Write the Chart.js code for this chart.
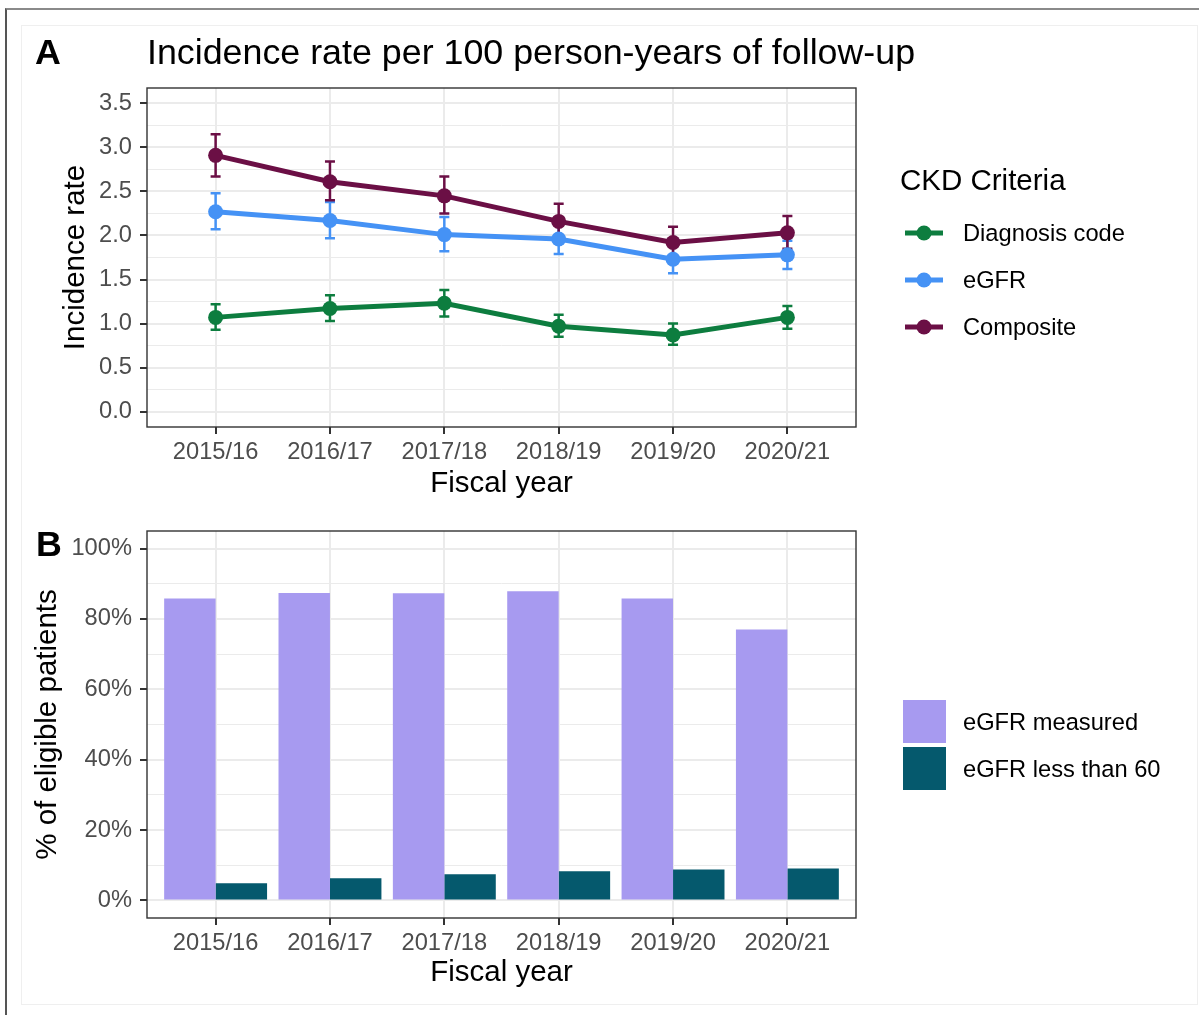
<!DOCTYPE html>
<html>
<head>
<meta charset="utf-8">
<title>CKD incidence and eGFR testing by fiscal year</title>
<script src="https://cdn.jsdelivr.net/npm/chart.js@4/dist/chart.umd.min.js"></script>
<style>
  html, body { margin: 0; padding: 0; background: #fff; width: 1199px; height: 1015px; overflow: hidden; }
  #frame { position: absolute; left: 5px; top: 8px; width: 1300px; height: 1100px;
           border-left: 2px solid #555; border-top: 2px solid #8a8a8a; }
  #inner { position: absolute; left: 21px; top: 25px; width: 1175px; height: 978px; border: 1px solid #efefef; }
  canvas { position: absolute; left: 0; }
  #chartA { top: 0; }
  #chartB { top: 500px; }
</style>
</head>
<body>
<div id="frame"></div>
<div id="inner"></div>
<canvas id="chartA" width="1199" height="520"></canvas>
<canvas id="chartB" width="1199" height="515"></canvas>
<script>
// ---- Data ----
const fiscalYears = ['2015/16', '2016/17', '2017/18', '2018/19', '2019/20', '2020/21'];

// Incidence rate per 100 person-years, with 95% confidence limits
const diagRate  = [1.07, 1.17, 1.23, 0.97, 0.87, 1.07];
const diagLower = [0.93, 1.03, 1.08, 0.85, 0.76, 0.94];
const diagUpper = [1.22, 1.32, 1.38, 1.10, 1.00, 1.20];

const egfrRate  = [2.27, 2.17, 2.01, 1.96, 1.73, 1.78];
const egfrLower = [2.07, 1.97, 1.82, 1.79, 1.57, 1.62];
const egfrUpper = [2.48, 2.38, 2.21, 2.14, 1.89, 1.94];

const compRate  = [2.91, 2.61, 2.45, 2.16, 1.92, 2.03];
const compLower = [2.67, 2.40, 2.25, 1.97, 1.73, 1.85];
const compUpper = [3.15, 2.84, 2.67, 2.36, 2.10, 2.22];

// Share of eligible patients (%)
const measuredPct = [85.8, 87.4, 87.3, 87.9, 85.8, 77.0];
const below60Pct  = [4.9, 6.3, 7.4, 8.3, 8.8, 9.1];

// Tick values
const rateTicks = [0, 0.5, 1, 1.5, 2, 2.5, 3, 3.5];
const pctTicks  = [0, 20, 40, 60, 80, 100];

// ---- Styling ----
const FONT = "'Liberation Sans', Arial, Helvetica, sans-serif";
Chart.defaults.font.family = FONT;
Chart.defaults.color = '#4d4d4d';
Chart.defaults.animation = false;

const GREEN = '#0d7d3f', BLUE = '#4592f5', MAROON = '#6b0f45';
const LAVENDER = '#a79af0', TEAL = '#05596d';
const GRID = '#ebebeb', INK = '#333333';
const TICK_SIZE = 23.7, TITLE_SIZE = 29.5, MAIN_SIZE = 35.8;
const PLOT_LEFT = 147, PLOT_RIGHT = 856, CANVAS_W = 1199;

// major ticks plus midpoints as minor gridlines
function withMinor(majors) {
  const out = [];
  majors.forEach((v, i) => {
    out.push(v);
    if (i < majors.length - 1) out.push((v + majors[i + 1]) / 2);
  });
  return out;
}

function xScale(height, bottomPad) {
  return {
    type: 'linear',
    min: -0.6,
    max: fiscalYears.length - 1 + 0.6,
    offset: false,
    afterBuildTicks: s => { s.ticks = fiscalYears.map((_, i) => ({ value: i })); },
    afterFit: s => { s.height = height; },
    ticks: { callback: v => fiscalYears[v], color: '#4d4d4d', font: { size: TICK_SIZE },
             padding: 4, maxRotation: 0, autoSkip: false },
    grid: { offset: false, color: GRID, lineWidth: 2, tickLength: 7, tickColor: INK, tickWidth: 2 },
    border: { display: false },
    title: { display: true, text: 'Fiscal year', color: '#000', font: { size: TITLE_SIZE },
             padding: { top: 0, bottom: bottomPad } }
  };
}

function yScale(min, max, majors, fmt, titleText, titlePad) {
  const majorSet = new Set(majors);
  const isMajor = c => c.tick && majorSet.has(c.tick.value);
  return {
    type: 'linear',
    min, max,
    afterBuildTicks: s => { s.ticks = withMinor(majors).map(v => ({ value: v })); },
    afterFit: s => { s.width = PLOT_LEFT; },
    ticks: { callback: v => majorSet.has(v) ? fmt(v) : '', color: '#4d4d4d',
             font: { size: TICK_SIZE }, padding: 8, autoSkip: false },
    grid: { color: GRID, lineWidth: c => isMajor(c) ? 2 : 1, tickLength: 7,
            tickColor: c => isMajor(c) ? INK : 'rgba(0,0,0,0)', tickWidth: 2 },
    border: { display: false },
    title: { display: true, text: titleText, color: '#000', font: { size: TITLE_SIZE },
             padding: { top: titlePad, bottom: 0 } }
  };
}

// panel border drawn over the data
const panelBorder = {
  id: 'panelBorder',
  afterDatasetsDraw(chart) {
    const { ctx, chartArea: a } = chart;
    ctx.save();
    ctx.strokeStyle = INK;
    ctx.lineWidth = 1.4;
    ctx.strokeRect(a.left, a.top, a.right - a.left, a.bottom - a.top);
    ctx.restore();
  }
};

// confidence-interval whiskers for the incidence panel
const intervals = [
  { color: GREEN, lower: diagLower, upper: diagUpper },
  { color: BLUE, lower: egfrLower, upper: egfrUpper },
  { color: MAROON, lower: compLower, upper: compUpper }
];
const errorBars = {
  id: 'errorBars',
  beforeDatasetsDraw(chart) {
    const { ctx, scales: { x, y } } = chart;
    ctx.save();
    ctx.lineWidth = 2.5;
    intervals.forEach(s => {
      ctx.strokeStyle = s.color;
      s.lower.forEach((lo, i) => {
        const px = x.getPixelForValue(i);
        const y1 = y.getPixelForValue(lo), y2 = y.getPixelForValue(s.upper[i]);
        ctx.beginPath();
        ctx.moveTo(px, y1); ctx.lineTo(px, y2);
        ctx.moveTo(px - 5, y1); ctx.lineTo(px + 5, y1);
        ctx.moveTo(px - 5, y2); ctx.lineTo(px + 5, y2);
        ctx.stroke();
      });
    });
    ctx.restore();
  }
};

// panel tag, heading and legend for the incidence panel
const decorA = {
  id: 'decorA',
  afterDraw(chart) {
    const ctx = chart.ctx;
    ctx.save();
    ctx.fillStyle = '#000';
    ctx.textBaseline = 'alphabetic';
    ctx.font = `bold ${MAIN_SIZE}px ${FONT}`;
    ctx.fillText('A', 35, 64);
    ctx.font = `${MAIN_SIZE}px ${FONT}`;
    ctx.fillText('Incidence rate per 100 person-years of follow-up', 147, 64);

    ctx.textBaseline = 'middle';
    ctx.font = `${TITLE_SIZE}px ${FONT}`;
    ctx.fillText('CKD Criteria', 900, 182);
    ctx.font = `${TICK_SIZE}px ${FONT}`;
    chart.data.datasets.forEach((ds, i) => {
      const yc = 233 + i * 47;
      ctx.strokeStyle = ds.borderColor;
      ctx.lineWidth = 5;
      ctx.beginPath(); ctx.moveTo(905, yc); ctx.lineTo(943, yc); ctx.stroke();
      ctx.fillStyle = ds.borderColor;
      ctx.beginPath(); ctx.arc(924, yc, 7.5, 0, Math.PI * 2); ctx.fill();
      ctx.fillStyle = '#000';
      ctx.fillText(ds.label, 963, yc + 1);
    });
    ctx.restore();
  }
};

// panel tag and legend for the testing panel
const decorB = {
  id: 'decorB',
  afterDraw(chart) {
    const ctx = chart.ctx;
    ctx.save();
    ctx.fillStyle = '#000';
    ctx.textBaseline = 'alphabetic';
    ctx.font = `bold ${MAIN_SIZE}px ${FONT}`;
    ctx.fillText('B', 36, 56);
    ctx.textBaseline = 'middle';
    ctx.font = `${TICK_SIZE}px ${FONT}`;
    chart.data.datasets.forEach((ds, i) => {
      const top = 200 + i * 47;
      ctx.fillStyle = ds.backgroundColor;
      ctx.fillRect(903, top, 43, 43);
      ctx.fillStyle = '#000';
      ctx.fillText(ds.label, 963, top + 23);
    });
    ctx.restore();
  }
};

const lineDs = (label, values, color, order) => ({
  label,
  data: values.map((v, i) => ({ x: i, y: v })),
  borderColor: color, backgroundColor: color,
  borderWidth: 5, pointRadius: 7.5, pointHoverRadius: 7.5, pointBorderWidth: 0,
  tension: 0, order
});

new Chart(document.getElementById('chartA'), {
  type: 'line',
  data: {
    datasets: [
      lineDs('Diagnosis code', diagRate, GREEN, 2),
      lineDs('eGFR', egfrRate, BLUE, 1),
      lineDs('Composite', compRate, MAROON, 0)
    ]
  },
  options: {
    responsive: false,
    layout: { padding: { left: 0, top: 88, right: CANVAS_W - PLOT_RIGHT, bottom: 0 } },
    plugins: { legend: { display: false }, tooltip: { enabled: false } },
    scales: {
      x: xScale(93, 18),
      y: yScale(-0.175, 3.675, rateTicks, v => v.toFixed(1), 'Incidence rate', 58)
    }
  },
  plugins: [errorBars, panelBorder, decorA]
});

const barDs = (label, values, color) => ({
  label,
  data: values.map((v, i) => ({ x: i, y: v })),
  backgroundColor: color, borderWidth: 0,
  categoryPercentage: 0.9, barPercentage: 1.0
});

new Chart(document.getElementById('chartB'), {
  type: 'bar',
  data: {
    datasets: [
      barDs('eGFR measured', measuredPct, LAVENDER),
      barDs('eGFR less than 60', below60Pct, TEAL)
    ]
  },
  options: {
    responsive: false,
    layout: { padding: { left: 0, top: 31, right: CANVAS_W - PLOT_RIGHT, bottom: 0 } },
    plugins: { legend: { display: false }, tooltip: { enabled: false } },
    scales: {
      x: xScale(97, 24),
      y: yScale(-5, 105, pctTicks, v => v + '%', '% of eligible patients', 30)
    }
  },
  plugins: [panelBorder, decorB]
});
</script>
</body>
</html>
